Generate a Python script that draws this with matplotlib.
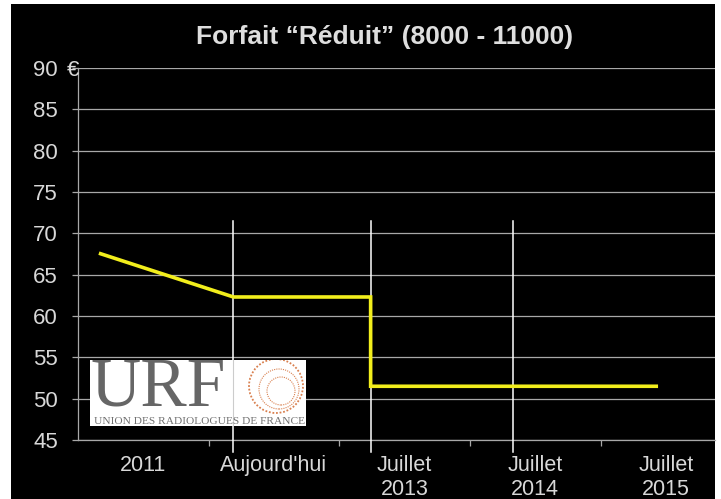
import matplotlib
matplotlib.use("Agg")
import matplotlib.pyplot as plt
from matplotlib.patches import Rectangle, Circle

# ---- data ----
categories = ["2011", "Aujourd'hui", "Juillet\n2013", "Juillet\n2014", "Juillet\n2015"]
line_x = [-0.34, 0.69, 1.74, 1.74, 3.94]      # positions in category units
line_y = [67.6, 62.3, 62.3, 51.5, 51.5]       # € values
marker_lines_x = [0.69, 1.74, 2.83]           # vertical separators
yticks = [45, 50, 55, 60, 65, 70, 75, 80, 85, 90]
title = "Forfait \u201cR\u00e9duit\u201d (8000 - 11000)"

W, H = 721, 499
plt.rcParams["font.family"] = ["Liberation Sans", "DejaVu Sans"]
fig = plt.figure(figsize=(W / 100, H / 100), dpi=100, facecolor="white")

# black slide area
fig.add_artist(Rectangle((11 / W, 0), (715 - 11) / W, 1 - 4 / H,
                         transform=fig.transFigure, facecolor="black",
                         edgecolor="none", zorder=-10))

ax = fig.add_axes([78 / W, 1 - 440 / H, (715 - 78) / W, (440 - 68) / H])
ax.patch.set_alpha(0)
ax.set_xlim(-0.5, 4.376)
ax.set_ylim(45, 90)

grid_c = "#a8a8a8"
txt_c = "#d8d8d8"

for s in ["top", "right"]:
    ax.spines[s].set_visible(False)
ax.spines["left"].set_color(grid_c)
ax.spines["bottom"].set_color(grid_c)
ax.spines["left"].set_linewidth(0.9)
ax.spines["bottom"].set_linewidth(0.9)

ax.set_yticks(yticks)
ax.set_yticklabels([str(v) for v in yticks])
ax.yaxis.grid(True, color=grid_c, linewidth=0.9)
ax.set_axisbelow(True)
ax.tick_params(axis="y", colors=grid_c, length=4.5, width=0.9, pad=10,
               labelcolor=txt_c, labelsize=16)

ax.set_xticks(range(len(categories)))
ax.set_xticklabels(categories)
ax.set_xticks([i + 0.5 for i in range(len(categories) - 1)], minor=True)
ax.tick_params(axis="x", which="major", length=0, pad=11, labelcolor=txt_c,
               labelsize=15.5)
ax.tick_params(axis="x", which="minor", length=4, width=0.9, colors=grid_c)
for lab in ax.get_xticklabels():
    lab.set_linespacing(1.15)

ax.text(-0.017, 1.0, "\u20ac", transform=ax.transAxes, ha="left",
        va="center_baseline", color=txt_c, fontsize=16, clip_on=False)

# vertical separators
for xv in marker_lines_x:
    ax.plot([xv, xv], [71.5, 43.5], color="white", linewidth=1.1,
            clip_on=False, zorder=3)

# the price line
ax.plot(line_x, line_y, color="#f2ee1c", linewidth=2.6, zorder=4,
        solid_joinstyle="miter", solid_capstyle="butt")

fig.text(385 / W, 1 - 37 / H, title, ha="center", va="center",
         color="#dedede", fontsize=19, fontweight="bold")

# URF logo block
lax = fig.add_axes([90 / W, 1 - 426 / H, 216 / W, 66 / H])
lax.set_xlim(0, 216)
lax.set_ylim(0, 66)
lax.set_facecolor("white")
for s in lax.spines.values():
    s.set_visible(False)
lax.set_xticks([])
lax.set_yticks([])
lax.text(1, 20, "URF", fontsize=50, family=["Liberation Serif"], color="#666666",
         ha="left", va="baseline")
lax.text(4, 2, "UNION DES RADIOLOGUES DE FRANCE", fontsize=8.2,
         family=["Liberation Serif"], color="#707070", ha="left", va="baseline")
for (cx, cy, r, lw) in [(186, 40, 27, 1.3), (189, 37, 20, 0.8), (191, 35, 14, 0.8)]:
    lax.add_patch(Circle((cx, cy), r, fill=False, edgecolor="#d9804f",
                         linewidth=lw, linestyle=(0, (1, 1))))
lax.plot([233 - 90, 233 - 90], [0, 66], color="#cccccc", linewidth=0.8)

fig.savefig("out.png", dpi=100, facecolor=fig.get_facecolor())
